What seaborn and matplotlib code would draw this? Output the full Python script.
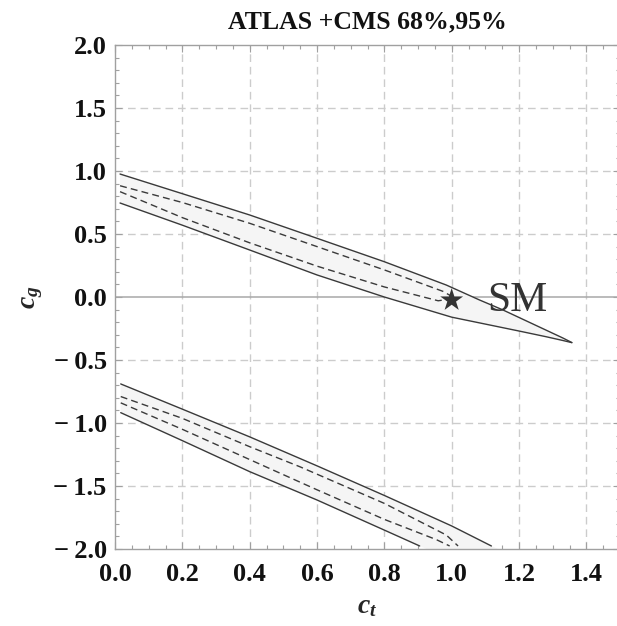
import matplotlib
matplotlib.use("Agg")
import matplotlib.pyplot as plt
import seaborn as sns
import pandas as pd
from matplotlib.ticker import MultipleLocator, FixedLocator

# ---------------- data ----------------
title = "ATLAS +CMS 68%,95%"
x_ticks = [0.0, 0.2, 0.4, 0.6, 0.8, 1.0, 1.2, 1.4]
y_ticks = [-2.0, -1.5, -1.0, -0.5, 0.0, 0.5, 1.0, 1.5, 2.0]

# upper band, 95% contour (solid)
up95_top_ct = [0.015, 0.2, 0.4, 0.6, 0.8, 0.984, 1.083, 1.15, 1.23, 1.29, 1.33, 1.35, 1.357]
up95_top_cg = [0.976, 0.82, 0.651, 0.466, 0.28, 0.095, -0.024, -0.10, -0.20, -0.275, -0.325, -0.352, -0.362]
up95_bot_ct = [0.015, 0.2, 0.4, 0.6, 0.8, 1.0, 1.1, 1.2, 1.28, 1.33, 1.352, 1.357]
up95_bot_cg = [0.746, 0.57, 0.373, 0.175, 0.0, -0.16, -0.215, -0.27, -0.315, -0.345, -0.359, -0.362]

# upper band, 68% contour (dashed)
up68_top_ct = [0.015, 0.2, 0.4, 0.6, 0.8, 0.974, 1.01]
up68_top_cg = [0.883, 0.75, 0.585, 0.40, 0.215, 0.045, -0.01]
up68_bot_ct = [0.015, 0.2, 0.4, 0.6, 0.8, 0.96, 1.01]
up68_bot_cg = [0.836, 0.63, 0.43, 0.245, 0.08, -0.03, -0.01]

# lower band, 95% contour (solid)
lo95_top_ct = [0.017, 0.2, 0.4, 0.6, 0.8, 1.0, 1.118]
lo95_top_cg = [-0.69, -0.89, -1.11, -1.34, -1.575, -1.817, -1.976]
lo95_bot_ct = [0.017, 0.2, 0.4, 0.6, 0.8, 0.905]
lo95_bot_cg = [-0.918, -1.14, -1.386, -1.611, -1.85, -1.976]

# lower band, 68% contour (dashed)
lo68_top_ct = [0.017, 0.2, 0.4, 0.549, 0.8, 0.984, 1.019]
lo68_top_cg = [-0.79, -0.963, -1.188, -1.347, -1.638, -1.889, -1.976]
lo68_bot_ct = [0.017, 0.2, 0.4, 0.6, 0.8, 0.954, 0.994]
lo68_bot_cg = [-0.84, -1.05, -1.29, -1.53, -1.765, -1.925, -1.976]

sm_ct = [1.0]
sm_cg = [-0.025]

# ---------------- style ----------------
sns.set_theme(style="white")
plt.rcParams['font.family'] = ['Liberation Serif', 'DejaVu Serif']
plt.rcParams['mathtext.fontset'] = 'custom'
plt.rcParams['mathtext.it'] = 'Liberation Serif:style=italic:weight=bold'
plt.rcParams['mathtext.rm'] = 'Liberation Serif:weight=bold'
plt.rcParams['axes.unicode_minus'] = True

fig = plt.figure(figsize=(6.17, 6.26), dpi=100)
ax = fig.add_axes([115 / 617, 77 / 626, 505 / 617, 504 / 626])
ax.set_xlim(0, 1.5)
ax.set_ylim(-2, 2)

line_col = '#3a3a3a'
fill_col = '#f5f5f5'
grid_col = '#cccccc'

# grid
for xv in x_ticks[1:]:
    ax.axvline(xv, color=grid_col, lw=1.0, ls=(0, (5.5, 3.5)), zorder=0)
for yv in y_ticks[1:-1]:
    if yv != 0.0:
        ax.axhline(yv, color=grid_col, lw=1.0, ls=(0, (5.5, 3.5)), zorder=0)
ax.axhline(0.0, color='#a8a8a8', lw=1.1, zorder=1)

# fills of the 95% regions
ax.fill(up95_top_ct + up95_bot_ct[::-1], up95_top_cg + up95_bot_cg[::-1],
        color=fill_col, lw=0, zorder=2)
ax.fill(lo95_top_ct + [lo95_top_ct[-1] + 0.02, lo95_bot_ct[-1] + 0.02] + lo95_bot_ct[::-1],
        lo95_top_cg + [-2.0, -2.0] + lo95_bot_cg[::-1],
        color=fill_col, lw=0, zorder=2)

curves = [
    (up95_top_ct, up95_top_cg, '-'), (up95_bot_ct, up95_bot_cg, '-'),
    (lo95_top_ct, lo95_top_cg, '-'), (lo95_bot_ct, lo95_bot_cg, '-'),
    (up68_top_ct, up68_top_cg, '--'), (up68_bot_ct, up68_bot_cg, '--'),
    (lo68_top_ct, lo68_top_cg, '--'), (lo68_bot_ct, lo68_bot_cg, '--'),
]
for cx, cy, st in curves:
    df = pd.DataFrame({'ct': cx, 'cg': cy})
    ls = '-' if st == '-' else (0, (5, 3))
    sns.lineplot(data=df, x='ct', y='cg', sort=False, estimator=None, ax=ax,
                 color=line_col, lw=1.0, linestyle=ls, zorder=3)

# SM point
sns.scatterplot(x=sm_ct, y=sm_cg, marker='*', s=300, color='#333333',
                edgecolor='none', ax=ax, zorder=5)
ax.text(1.107, -0.115, 'SM', fontsize=30, color='#333333',
        family='Liberation Serif', ha='left', va='baseline', zorder=5)

# axes / ticks
for sp in ax.spines.values():
    sp.set_color('#a0a0a0')
    sp.set_linewidth(1.0)
ax.xaxis.set_major_locator(FixedLocator(x_ticks))
ax.yaxis.set_major_locator(FixedLocator(y_ticks))
ax.xaxis.set_minor_locator(MultipleLocator(0.05))
ax.yaxis.set_minor_locator(MultipleLocator(0.1))
ax.set_xticklabels([f"{v:.1f}" for v in x_ticks])
ax.set_yticklabels([(f"\u2212\u2009{abs(v):.1f}" if v < 0 else f"{v:.1f}") for v in y_ticks])
ax.tick_params(which='both', direction='in', color='#a0a0a0', top=True, right=True,
               bottom=True, left=True, width=0.8)
ax.tick_params(which='major', length=5, labelsize=19)
ax.tick_params(axis='x', which='major', pad=10)
ax.tick_params(axis='y', which='major', pad=6)
ax.tick_params(which='minor', length=3)
for lab in ax.get_xticklabels() + ax.get_yticklabels():
    lab.set_fontweight('bold')
    lab.set_color('#111111')

ax.set_xlabel(r'$c_t$', fontsize=20, labelpad=6)
ax.set_ylabel(r'$c_g$', fontsize=20, labelpad=6)
ax.set_title(title, fontsize=18.5, fontweight='bold', pad=12, color='#111111')
ax.grid(False)

fig.savefig('out.png', dpi=100)
